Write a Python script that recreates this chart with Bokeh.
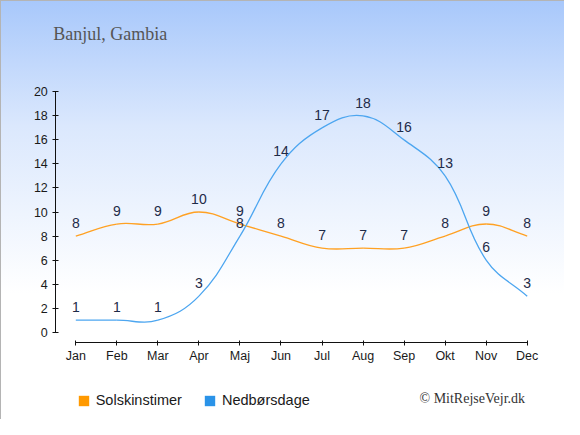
import math
from bokeh.plotting import figure
from bokeh.models import (ColumnDataSource, FixedTicker, Label, Legend, LegendItem, Range1d)
from bokeh.embed import file_html
from bokeh.resources import INLINE

# ---- data ----
months = ["Jan", "Feb", "Mar", "Apr", "Maj", "Jun", "Jul", "Aug", "Sep", "Okt", "Nov", "Dec"]
sun_hours = [8, 9, 9, 10, 9, 8, 7, 7, 7, 8, 9, 8]
rain_days = [1, 1, 1, 3, 8, 14, 17, 18, 16, 13, 6, 3]
y_ticks = [0, 2, 4, 6, 8, 10, 12, 14, 16, 18, 20]
title_text = "Banjul, Gambia"
credit_text = "\u00a9 MitRejseVejr.dk"
series_names = ["Solskinstimer", "Nedb\u00f8rsdage"]

ORANGE = "#ffa123"
BLUE = "#4da6f0"
LABEL_COLOR = "#1e2b48"

# ---- geometry (pixels) ----
W, H = 564, 419
X_FIRST_PX, X_LAST_PX = 74.3, 525.7      # first / last month position
Y_ZERO_PX, Y_TOP_PX = 330.7, 90.3        # value 0 / value 20 position
XAXIS_PX, YAXIS_PX = 341.3, 54.3         # axis lines
n_m = len(months)
px_x = (X_LAST_PX - X_FIRST_PX) / (n_m - 1)
px_y = (Y_ZERO_PX - Y_TOP_PX) / (y_ticks[-1] - y_ticks[0])
x_start = -X_FIRST_PX / px_x
x_end = (n_m - 1) + (W - X_LAST_PX) / px_x
y_start = -(H - Y_ZERO_PX) / px_y
y_end = y_ticks[-1] + Y_TOP_PX / px_y

p = figure(width=W, height=H, output_backend="svg", toolbar_location=None,
           x_range=Range1d(x_start, x_end), y_range=Range1d(y_start, y_end),
           min_border=0)
p.background_fill_alpha = 0
p.border_fill_alpha = 0
p.outline_line_color = None
p.xgrid.visible = False
p.ygrid.visible = False
p.styles = {"background": "linear-gradient(to bottom, #a8c8fb 0%, #dbe8fd 30%, #ffffff 70%, #ffffff 100%)",
            "border-top": "1px solid #b4b4b4", "border-left": "1px solid #b4b4b4"}

xs = list(range(n_m))


def spline_segments(ys, tension=0.4):
    n = len(ys)
    cps = []
    for i in range(n):
        ip = max(i - 1, 0)
        inx = min(i + 1, n - 1)
        d01 = math.hypot((xs[i] - xs[ip]) * px_x, (ys[i] - ys[ip]) * px_y)
        d12 = math.hypot((xs[inx] - xs[i]) * px_x, (ys[inx] - ys[i]) * px_y)
        tot = d01 + d12
        s01 = d01 / tot if tot else 0
        s12 = d12 / tot if tot else 0
        fa, fb = tension * s01, tension * s12
        dx = xs[inx] - xs[ip]
        dy = ys[inx] - ys[ip]
        cps.append(((xs[i] - fa * dx, ys[i] - fa * dy), (xs[i] + fb * dx, ys[i] + fb * dy)))
    d = dict(x0=[], y0=[], x1=[], y1=[], cx0=[], cy0=[], cx1=[], cy1=[])
    for i in range(n - 1):
        d["x0"].append(xs[i]); d["y0"].append(ys[i])
        d["x1"].append(xs[i + 1]); d["y1"].append(ys[i + 1])
        d["cx0"].append(cps[i][1][0]); d["cy0"].append(cps[i][1][1])
        d["cx1"].append(cps[i + 1][0][0]); d["cy1"].append(cps[i + 1][0][1])
    return ColumnDataSource(d)


for ys, col in ((sun_hours, ORANGE), (rain_days, BLUE)):
    p.bezier(x0="x0", y0="y0", x1="x1", y1="y1", cx0="cx0", cy0="cy0", cx1="cx1", cy1="cy1",
             source=spline_segments(ys), line_color=col, line_width=1.3)

for ys in (sun_hours, rain_days):
    src = ColumnDataSource(dict(x=xs, y=ys, t=[str(v) for v in ys]))
    p.text(x="x", y="y", text="t", source=src, text_align="center", text_baseline="middle",
           y_offset=-13, text_color=LABEL_COLOR, text_font={"value": "Liberation Sans"},
           text_font_size="14px")

# axes, fixed inside the frame
p.xaxis.ticker = FixedTicker(ticks=xs)
p.xaxis.major_label_overrides = {i: m for i, m in enumerate(months)}
p.xaxis.bounds = (0, n_m - 1)
p.xaxis.fixed_location = -(XAXIS_PX - Y_ZERO_PX) / px_y
p.yaxis.ticker = FixedTicker(ticks=y_ticks)
p.yaxis.bounds = (y_ticks[0], y_ticks[-1])
p.yaxis.fixed_location = -(X_FIRST_PX - YAXIS_PX) / px_x
for ax in (p.xaxis[0], p.yaxis[0]):
    ax.axis_line_color = "#111111"
    ax.major_tick_line_color = "#111111"
    ax.minor_tick_line_color = None
    ax.major_label_text_font = "Liberation Sans"
    ax.major_label_text_font_size = "12.5px"
    ax.major_label_text_color = "#1a1a1a"
p.xaxis.major_tick_out = 3
p.xaxis.major_tick_in = 2
p.xaxis.major_label_standoff = 3
p.yaxis.major_tick_out = 3
p.yaxis.major_tick_in = 3
p.yaxis.major_label_standoff = 5

# title & credit
p.add_layout(Label(x=51.7, y=H - 32.2, x_units="screen", y_units="screen", text=title_text,
                   text_font="Liberation Serif", text_font_size="18px", text_color="#555555",
                   text_baseline="middle"))
p.add_layout(Label(x=418, y=H - 397, x_units="screen", y_units="screen", text=credit_text,
                   text_font="Liberation Serif", text_font_size="14px", text_color="#333333",
                   text_baseline="middle"))

# legend (swatch renderers hold no visible data)
nan = float("nan")
r_sun = p.quad(left=[nan], right=[nan], top=[nan], bottom=[nan], fill_color="#ff9900", line_color=None)
r_rain = p.quad(left=[nan], right=[nan], top=[nan], bottom=[nan], fill_color="#2a93e8", line_color=None)
legend = Legend(items=[LegendItem(label=series_names[0], renderers=[r_sun]),
                       LegendItem(label=series_names[1], renderers=[r_rain])],
                orientation="horizontal", location=(75.7, 12), padding=0, margin=0,
                spacing=21, glyph_width=13, glyph_height=13, label_standoff=6,
                label_height=13, label_text_font="Liberation Sans",
                label_text_font_size="14.5px", label_text_color="#1a1a1a",
                border_line_color=None, background_fill_alpha=0)
p.add_layout(legend)

open("out.html", "w").write(file_html(p, INLINE))
